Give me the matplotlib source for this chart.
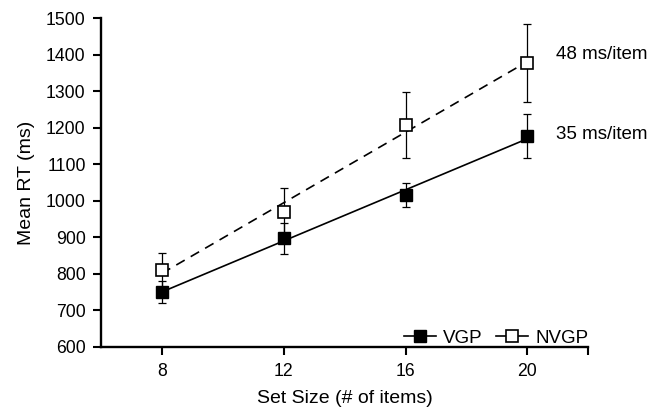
import numpy as np
import matplotlib
matplotlib.use('Agg')
from matplotlib import pyplot as plt
from matplotlib.lines import Line2D

plt.rcParams['font.family'] = ['Liberation Sans', 'DejaVu Sans']
plt.rcParams['lines.scale_dashes'] = False

set_size = [8, 12, 16, 20]
vgp_rt = [750, 897, 1016, 1177]
vgp_err = [30, 42, 32, 60]
nvgp_rt = [811, 970, 1207, 1377]
nvgp_err = [47, 66, 91, 107]
slope_labels = ['35 ms/item', '48 ms/item']

fig = plt.figure(figsize=(6.64, 4.12), dpi=100)
ax = fig.add_axes([0.152, 0.1585, 0.734, 0.797])

x = np.array(set_size)
fs = 13.5

# regression lines
for rt, ls in [(vgp_rt, '-'), (nvgp_rt, '--')]:
    k, b = np.polyfit(x, rt, 1)
    line, = ax.plot(x, k * x + b, color='black', lw=1.2, zorder=2)
    if ls == '--':
        line.set_dashes((7, 5))

ax.errorbar(x, vgp_rt, yerr=vgp_err, fmt='none', ecolor='black', elinewidth=0.9, capsize=3, capthick=0.9, zorder=3)
ax.errorbar(x, nvgp_rt, yerr=nvgp_err, fmt='none', ecolor='black', elinewidth=0.9, capsize=3, capthick=0.9, zorder=3)
ax.plot(x, nvgp_rt, 's', ms=8, mfc='white', mec='black', mew=1.2, zorder=4)
ax.plot(x, vgp_rt, 's', ms=8, mfc='black', mec='black', zorder=4)

ax.text(20.95, vgp_rt[-1] + 5, slope_labels[0], fontsize=fs, va='center', ha='left')
ax.text(20.95, 1400, slope_labels[1], fontsize=fs, va='center', ha='left')

ax.set_xlim(6, 22)
ax.set_ylim(600, 1500)
ax.set_xticks([8, 12, 16, 20, 22], ['8', '12', '16', '20', ''])
ax.set_yticks(np.arange(600, 1501, 100))
ax.tick_params(labelsize=12.7, width=1.5, length=6, color='black')
ax.tick_params(axis='y', pad=5)
ax.tick_params(axis='x', pad=6)
ax.spines['top'].set_visible(False)
ax.spines['right'].set_visible(False)
for s in ['left', 'bottom']:
    ax.spines[s].set_linewidth(1.7)

ax.set_xlabel('Set Size (# of items)', fontsize=14, labelpad=7)
ax.set_ylabel('Mean RT (ms)', fontsize=14, labelpad=8)

handles = [
    Line2D([], [], color='black', lw=1.2, marker='s', ms=8, mfc='black', mec='black'),
    Line2D([], [], color='black', lw=1.2, marker='s', ms=8, mfc='white', mec='black', mew=1.2),
]
ax.legend(handles, ['VGP', 'NVGP'], loc='lower right', ncol=2, frameon=False, fontsize=fs,
          handlelength=1.7, handletextpad=0.4, columnspacing=0.7, borderaxespad=0,
          borderpad=0, bbox_to_anchor=(1.0, 0.0))

fig.savefig('out.png', dpi=100)
